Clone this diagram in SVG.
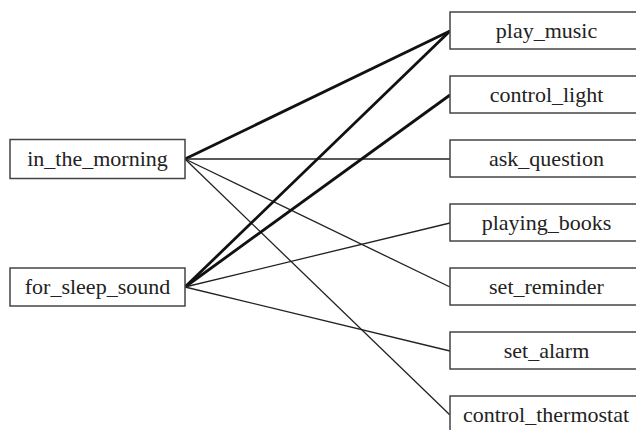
<svg xmlns="http://www.w3.org/2000/svg" width="636" height="430" viewBox="0 0 636 430">
<style>
.box{fill:#fff;stroke:#444;stroke-width:1.5}
.lbl{font-family:"Liberation Serif","Times New Roman",serif;font-size:22px;fill:#222;text-anchor:middle}
.thin{stroke:#222;stroke-width:1.3;fill:none}
.thick{stroke:#111;stroke-width:2.8;fill:none}
</style>
<rect width="636" height="430" fill="#fff"/>
<g id="connectors">
<line class="thick" x1="185" y1="159" x2="450" y2="31"/>
<line class="thin" x1="185" y1="159" x2="450" y2="159"/>
<line class="thin" x1="185" y1="159" x2="450" y2="287"/>
<line class="thin" x1="185" y1="159" x2="450" y2="415"/>
<line class="thick" x1="185" y1="287" x2="450" y2="31"/>
<line class="thick" x1="185" y1="287" x2="450" y2="95"/>
<line class="thin" x1="185" y1="287" x2="450" y2="223"/>
<line class="thin" x1="185" y1="287" x2="450" y2="351"/>
</g>
<g id="in_the_morning"><rect class="box" x="10" y="139.5" width="175" height="39"/><text class="lbl" x="97.5" y="166">in_the_morning</text></g>
<g id="for_sleep_sound"><rect class="box" x="10" y="268" width="175" height="38"/><text class="lbl" x="97.5" y="294">for_sleep_sound</text></g>
<g id="play_music"><rect class="box" x="450" y="12" width="193" height="37"/><text class="lbl" x="546.5" y="38">play_music</text></g>
<g id="control_light"><rect class="box" x="450" y="76" width="193" height="37"/><text class="lbl" x="546.5" y="102">control_light</text></g>
<g id="ask_question"><rect class="box" x="450" y="140" width="193" height="37"/><text class="lbl" x="546.5" y="166">ask_question</text></g>
<g id="playing_books"><rect class="box" x="450" y="204" width="193" height="37"/><text class="lbl" x="546.5" y="230">playing_books</text></g>
<g id="set_reminder"><rect class="box" x="450" y="268" width="193" height="37"/><text class="lbl" x="546.5" y="294">set_reminder</text></g>
<g id="set_alarm"><rect class="box" x="450" y="332" width="193" height="37"/><text class="lbl" x="546.5" y="358">set_alarm</text></g>
<g id="control_thermostat"><rect class="box" x="450" y="396" width="193" height="37"/><text class="lbl" x="546" y="422">control_thermostat</text></g>
</svg>
